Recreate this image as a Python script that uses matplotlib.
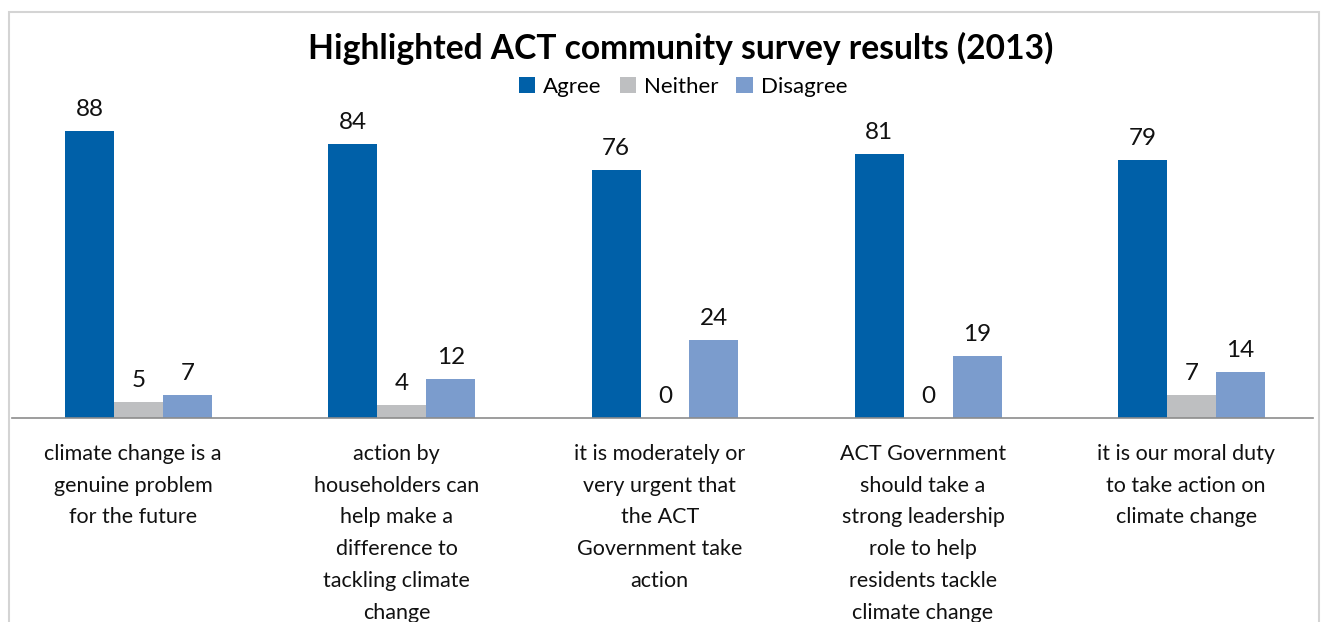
import matplotlib
matplotlib.use("Agg")
import matplotlib.pyplot as plt
import numpy as np
from matplotlib.patches import Rectangle

categories = [
    "climate change is a\ngenuine problem\nfor the future",
    "action by\nhouseholders can\nhelp make a\ndifference to\ntackling climate\nchange",
    "it is moderately or\nvery urgent that\nthe ACT\nGovernment take\naction",
    "ACT Government\nshould take a\nstrong leadership\nrole to help\nresidents tackle\nclimate change",
    "it is our moral duty\nto take action on\nclimate change",
]
series_names = ["Agree", "Neither", "Disagree"]
agree = [88, 84, 76, 81, 79]
neither = [5, 4, 0, 0, 7]
disagree = [7, 12, 24, 19, 14]
title = "Highlighted ACT community survey results (2013)"

colors = ["#0060A8", "#BEBFC1", "#7B9CCD"]
font = "Lato"
plt.rcParams['font.family'] = [font, 'DejaVu Sans']

fig = plt.figure(figsize=(13.21, 6.22), dpi=100)
fig.patches.append(Rectangle((9/1321, -0.1), (1319-9)/1321, 1.1 - 12/622,
                             transform=fig.transFigure, fill=False,
                             edgecolor="#D4D4D4", linewidth=1.5))
ax = fig.add_axes([12/1321, 1 - 418/622, (1313-12)/1321, (418-92)/622])

x = np.arange(len(categories))
w = 0.186
for i, (vals, name) in enumerate(zip([agree, neither, disagree], series_names)):
    pos = x + (i - 1) * w
    ax.bar(pos, vals, width=w, color=colors[i], label=name, zorder=2)
    for p, v in zip(pos, vals):
        ax.annotate(str(v), (p, v), xytext=(0, 8), textcoords="offset points",
                    ha="center", va="bottom", fontsize=17.5, color="#111111")

ax.set_xlim(-0.4805, 4.4615)
ax.set_ylim(0, 100)
for s in ["top", "right", "left"]:
    ax.spines[s].set_visible(False)
ax.spines["bottom"].set_color("#8C8C8C")
ax.spines["bottom"].set_linewidth(1.2)
ax.set_yticks([])
ax.set_xticks(x - 0.02)
ax.set_xticklabels(categories, fontsize=15.5, linespacing=1.74, color="#111111")
ax.tick_params(axis="x", length=0, pad=18.5)

fig.text(681/1321, 1 - 48/622, title, ha="center", va="center",
         fontsize=24.2, fontweight="bold", color="#000000")
leg = fig.legend(loc="center", bbox_to_anchor=(683/1321, 1 - 87/622), ncol=3,
                 frameon=False, fontsize=16, handlelength=0.75, handleheight=0.75,
                 handletextpad=0.35, columnspacing=0.8)

fig.savefig("out.png", dpi=100)
